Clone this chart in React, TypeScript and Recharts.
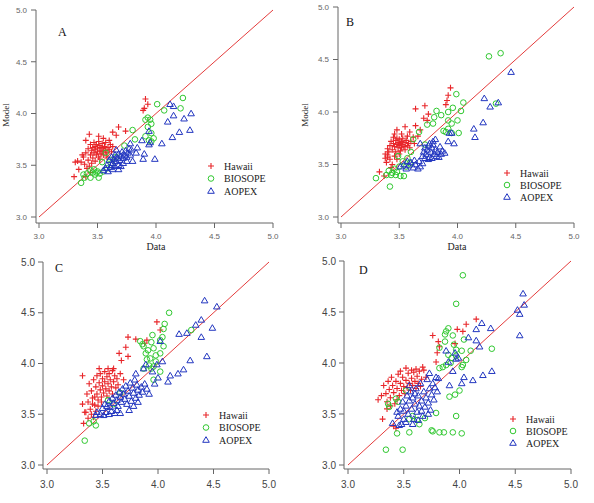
import React from 'react';
import { ScatterChart, Scatter, XAxis, YAxis, ReferenceLine } from 'recharts';

type Pt = [number, number];

// axis ticks shared by all panels
const ticks = [3.0, 3.5, 4.0, 4.5, 5.0];
const seriesNames = ['Hawaii', 'BIOSOPE', 'AOPEX'];
const panelLetters = ['A', 'B', 'C', 'D'];

// ---- panel A ----
const hawaiiA: Pt[] = [
  [3.91, 4.14], [3.93, 4.09], [3.90, 4.05], [3.89, 4.03], [3.43, 3.80], [3.51, 3.78], [3.68, 3.87],
  [3.63, 3.82], [3.66, 3.79], [3.74, 3.83], [3.31, 3.53], [3.33, 3.54], [3.30, 3.39], [3.34, 3.46],
  [3.40, 3.39], [3.38, 3.58], [3.40, 3.62], [3.42, 3.66], [3.42, 3.55], [3.44, 3.70], [3.44, 3.60],
  [3.45, 3.64], [3.46, 3.67], [3.46, 3.57], [3.47, 3.72], [3.47, 3.62], [3.48, 3.65], [3.48, 3.68],
  [3.49, 3.60], [3.49, 3.70], [3.50, 3.63], [3.50, 3.66], [3.51, 3.73], [3.51, 3.58], [3.52, 3.64],
  [3.52, 3.69], [3.53, 3.61], [3.53, 3.67], [3.54, 3.71], [3.54, 3.63], [3.55, 3.66], [3.55, 3.60],
  [3.56, 3.68], [3.57, 3.64], [3.57, 3.72], [3.58, 3.62], [3.59, 3.67], [3.60, 3.65], [3.61, 3.70],
  [3.62, 3.63], [3.63, 3.68], [3.45, 3.52], [3.43, 3.49], [3.41, 3.47], [3.36, 3.53], [3.37, 3.60],
  [3.39, 3.51], [3.48, 3.54], [3.52, 3.56], [3.58, 3.58], [3.40, 3.74], [3.55, 3.76], [3.60, 3.74],
  [3.44, 3.43],
];
const biosopeA: Pt[] = [
  [4.23, 4.15], [4.01, 4.09], [4.07, 4.03], [4.21, 4.05], [3.93, 3.96], [3.91, 3.94], [3.95, 3.94],
  [3.93, 3.87], [3.96, 3.90], [3.91, 3.78], [3.96, 3.81], [3.98, 3.76], [3.96, 3.73], [3.94, 3.74],
  [3.82, 3.75], [3.80, 3.84], [3.73, 3.69], [3.57, 3.62], [3.61, 3.55], [3.54, 3.53], [3.38, 3.41],
  [3.36, 3.33], [3.44, 3.38], [3.51, 3.38], [3.46, 3.43], [3.48, 3.41], [3.50, 3.44], [3.52, 3.42],
  [3.55, 3.44], [3.41, 3.42], [3.44, 3.45], [3.47, 3.46], [3.58, 3.47], [3.62, 3.52], [3.66, 3.58],
  [3.39, 3.38], [3.49, 3.43],
];
const aopexA: Pt[] = [
  [4.12, 4.09], [4.15, 4.07], [4.15, 3.98], [4.10, 3.92], [4.30, 4.00], [4.24, 3.95], [4.29, 3.84],
  [4.20, 3.82], [4.14, 3.77], [4.05, 3.71], [3.99, 3.56], [3.89, 3.56], [3.90, 3.61], [3.88, 3.74],
  [3.94, 3.70], [3.95, 3.72], [3.94, 3.83], [3.84, 3.67], [3.83, 3.62], [3.78, 3.71], [3.80, 3.54],
  [3.60, 3.55], [3.62, 3.58], [3.63, 3.52], [3.64, 3.56], [3.65, 3.60], [3.66, 3.54], [3.67, 3.57],
  [3.68, 3.61], [3.69, 3.55], [3.70, 3.59], [3.71, 3.63], [3.72, 3.57], [3.73, 3.60], [3.74, 3.64],
  [3.75, 3.58], [3.76, 3.62], [3.77, 3.66], [3.78, 3.60], [3.79, 3.65], [3.72, 3.52], [3.68, 3.50],
  [3.75, 3.54], [3.66, 3.65], [3.55, 3.45], [3.57, 3.47], [3.59, 3.44], [3.61, 3.48], [3.63, 3.46],
  [3.65, 3.49], [3.68, 3.46], [3.58, 3.50], [3.62, 3.50], [3.70, 3.49],
];

// ---- panel B ----
const hawaiiB: Pt[] = [
  [3.94, 4.23], [3.92, 4.16], [3.91, 4.11], [3.90, 4.07], [3.64, 4.03], [3.72, 4.06], [3.75, 3.98],
  [3.71, 3.94], [3.74, 3.92], [3.48, 3.83], [3.55, 3.86], [3.59, 3.81], [3.64, 3.87], [3.68, 3.83],
  [3.66, 3.77], [3.33, 3.43], [3.37, 3.39], [3.38, 3.56], [3.40, 3.59], [3.42, 3.68], [3.43, 3.72],
  [3.44, 3.64], [3.45, 3.70], [3.45, 3.76], [3.46, 3.67], [3.47, 3.73], [3.47, 3.62], [3.48, 3.69],
  [3.48, 3.75], [3.49, 3.66], [3.49, 3.71], [3.50, 3.68], [3.50, 3.74], [3.51, 3.63], [3.51, 3.70],
  [3.52, 3.72], [3.52, 3.66], [3.53, 3.69], [3.53, 3.75], [3.54, 3.67], [3.55, 3.71], [3.55, 3.64],
  [3.56, 3.73], [3.57, 3.68], [3.58, 3.70], [3.59, 3.66], [3.60, 3.72], [3.57, 3.77], [3.52, 3.79],
  [3.46, 3.79], [3.41, 3.62], [3.40, 3.57], [3.39, 3.52], [3.42, 3.55], [3.44, 3.50], [3.43, 3.47],
  [3.46, 3.58], [3.48, 3.55], [3.50, 3.60], [3.38, 3.60], [3.40, 3.65], [3.62, 3.76], [3.63, 3.70],
];
const biosopeB: Pt[] = [
  [4.27, 4.53], [4.37, 4.56], [4.33, 4.08], [3.99, 4.17], [4.05, 4.09], [4.03, 4.01], [3.96, 4.04],
  [3.82, 4.01], [3.86, 3.97], [3.80, 3.95], [3.79, 3.89], [3.74, 3.88], [3.92, 4.00], [4.00, 3.92],
  [3.92, 3.92], [3.95, 3.89], [3.88, 3.82], [3.92, 3.84], [4.01, 3.80], [3.95, 3.80], [3.90, 3.81],
  [3.62, 3.74], [3.67, 3.81], [3.72, 3.69], [3.49, 3.58], [3.30, 3.37], [3.42, 3.29], [3.51, 3.39],
  [3.54, 3.39], [3.41, 3.44], [3.44, 3.42], [3.46, 3.46], [3.48, 3.43], [3.50, 3.48], [3.43, 3.40],
  [3.56, 3.48], [3.59, 3.51], [3.53, 3.53], [3.60, 3.62], [3.57, 3.56], [3.39, 3.40], [3.47, 3.40],
];
const aopexB: Pt[] = [
  [4.46, 4.38], [4.23, 4.13], [4.28, 4.05], [4.35, 4.09], [4.14, 3.84], [4.15, 3.76], [4.22, 3.90],
  [3.97, 3.70], [3.92, 3.72], [3.95, 3.80], [3.93, 3.80], [3.81, 3.74], [3.85, 3.67], [3.89, 3.61],
  [3.68, 3.70], [3.70, 3.58], [3.71, 3.62], [3.72, 3.66], [3.73, 3.60], [3.74, 3.64], [3.75, 3.68],
  [3.76, 3.57], [3.77, 3.62], [3.78, 3.66], [3.79, 3.72], [3.80, 3.60], [3.81, 3.64], [3.82, 3.58],
  [3.83, 3.62], [3.84, 3.57], [3.86, 3.60], [3.87, 3.63], [3.78, 3.56], [3.75, 3.55], [3.72, 3.56],
  [3.79, 3.69], [3.76, 3.70], [3.51, 3.48], [3.54, 3.50], [3.56, 3.46], [3.58, 3.49], [3.60, 3.52],
  [3.62, 3.47], [3.64, 3.50], [3.66, 3.46], [3.68, 3.48], [3.70, 3.51], [3.57, 3.53], [3.63, 3.54],
  [3.67, 3.53],
];

// ---- panel C ----
const hawaiiC: Pt[] = [
  [3.99, 4.41], [4.02, 4.33], [3.90, 4.23], [3.80, 4.24], [3.73, 4.26], [3.71, 4.16], [3.65, 4.10],
  [3.67, 4.03], [3.73, 4.07], [3.60, 3.95], [3.32, 3.60], [3.34, 3.52], [3.33, 3.41], [3.32, 3.88],
  [3.69, 3.84], [3.88, 4.20], [3.36, 3.70], [3.37, 3.62], [3.38, 3.80], [3.39, 3.55], [3.40, 3.73],
  [3.41, 3.66], [3.42, 3.84], [3.43, 3.59], [3.44, 3.77], [3.45, 3.70], [3.45, 3.88], [3.46, 3.64],
  [3.47, 3.81], [3.48, 3.74], [3.48, 3.90], [3.49, 3.67], [3.50, 3.85], [3.50, 3.78], [3.51, 3.71],
  [3.52, 3.92], [3.52, 3.82], [3.53, 3.75], [3.54, 3.87], [3.54, 3.68], [3.55, 3.80], [3.56, 3.73],
  [3.56, 3.90], [3.57, 3.84], [3.58, 3.77], [3.59, 3.93], [3.59, 3.70], [3.60, 3.82], [3.61, 3.88],
  [3.62, 3.76], [3.63, 3.85], [3.64, 3.79], [3.66, 3.90], [3.40, 3.50], [3.42, 3.47], [3.37, 3.46],
  [3.44, 3.53], [3.46, 3.58], [3.35, 3.52], [3.41, 3.60], [3.47, 3.95], [3.55, 3.95], [3.43, 3.67],
  [3.49, 3.62],
];
const biosopeC: Pt[] = [
  [4.10, 4.50], [4.06, 4.39], [4.05, 4.34], [4.30, 4.33], [3.95, 4.28], [4.02, 4.23], [3.84, 4.22],
  [3.87, 4.17], [3.96, 4.15], [4.05, 4.17], [3.89, 4.10], [3.93, 4.05], [3.98, 4.08], [4.02, 4.10],
  [3.92, 3.98], [3.96, 3.97], [4.02, 3.92], [3.96, 3.84], [3.66, 3.71], [3.55, 3.64], [3.34, 3.24],
  [3.38, 3.41], [3.44, 3.39], [3.42, 3.43], [3.86, 4.19], [3.91, 4.13], [3.94, 4.21], [4.04, 4.26],
  [3.90, 4.04], [3.98, 4.02], [3.94, 3.95], [3.87, 3.95], [3.60, 3.60],
];
const aopexC: Pt[] = [
  [4.42, 4.62], [4.53, 4.56], [4.39, 4.43], [4.34, 4.38], [4.26, 4.30], [4.19, 4.29], [4.49, 4.35],
  [4.39, 4.26], [4.44, 4.07], [4.29, 4.03], [4.23, 3.94], [4.18, 3.90], [4.11, 3.88], [4.09, 3.82],
  [4.02, 4.22], [4.04, 4.02], [3.89, 3.99], [3.99, 3.99], [3.95, 3.92], [3.80, 3.90], [3.87, 3.95],
  [4.00, 3.86], [3.97, 3.80], [3.50, 3.56], [3.52, 3.60], [3.54, 3.58], [3.56, 3.63], [3.57, 3.57],
  [3.59, 3.66], [3.60, 3.61], [3.62, 3.69], [3.63, 3.64], [3.64, 3.58], [3.65, 3.72], [3.66, 3.67],
  [3.67, 3.62], [3.68, 3.75], [3.69, 3.70], [3.70, 3.65], [3.71, 3.78], [3.72, 3.60], [3.73, 3.73],
  [3.74, 3.68], [3.75, 3.81], [3.76, 3.63], [3.77, 3.76], [3.78, 3.71], [3.79, 3.84], [3.80, 3.66],
  [3.81, 3.79], [3.82, 3.74], [3.83, 3.69], [3.85, 3.77], [3.86, 3.72], [3.88, 3.80], [3.90, 3.75],
  [3.92, 3.70], [3.45, 3.52], [3.48, 3.50], [3.51, 3.49], [3.53, 3.52], [3.56, 3.50], [3.58, 3.53],
  [3.61, 3.51], [3.63, 3.54], [3.66, 3.51], [3.74, 3.54], [3.78, 3.58], [3.82, 3.62], [3.44, 3.49],
];

// ---- panel D ----
const hawaiiD: Pt[] = [
  [4.15, 4.43], [4.06, 4.38], [4.03, 4.31], [3.98, 4.33], [3.76, 4.27], [3.81, 4.21], [3.82, 4.16],
  [3.80, 4.10], [3.79, 4.01], [3.96, 4.19], [3.67, 3.96], [3.61, 3.94], [3.52, 3.95], [3.27, 3.64],
  [3.30, 3.68], [3.31, 3.45], [3.43, 3.36], [3.41, 3.38], [3.32, 3.78], [3.34, 3.70], [3.35, 3.62],
  [3.36, 3.82], [3.37, 3.74], [3.38, 3.66], [3.39, 3.86], [3.40, 3.78], [3.41, 3.71], [3.42, 3.60],
  [3.43, 3.82], [3.44, 3.75], [3.45, 3.89], [3.46, 3.68], [3.47, 3.80], [3.48, 3.73], [3.49, 3.86],
  [3.50, 3.77], [3.51, 3.70], [3.52, 3.83], [3.53, 3.76], [3.54, 3.90], [3.55, 3.80], [3.56, 3.73],
  [3.57, 3.85], [3.58, 3.78], [3.59, 3.91], [3.60, 3.82], [3.61, 3.75], [3.62, 3.87], [3.63, 3.80],
  [3.64, 3.92], [3.66, 3.84], [3.68, 3.93], [3.70, 3.86], [3.44, 3.64], [3.38, 3.58], [3.35, 3.55],
  [3.47, 3.92], [3.57, 3.93], [3.65, 3.77],
];
const biosopeD: Pt[] = [
  [4.03, 4.86], [3.97, 4.58], [3.90, 4.34], [3.88, 4.31], [3.94, 4.27], [3.87, 4.28], [4.04, 4.23],
  [3.82, 4.15], [3.87, 4.21], [3.95, 4.18], [3.97, 4.13], [4.02, 4.12], [4.10, 4.12], [4.29, 4.14],
  [3.90, 4.08], [3.93, 4.05], [3.88, 3.98], [3.82, 3.95], [3.85, 3.96], [4.03, 3.98], [4.02, 3.96],
  [4.00, 3.73], [3.96, 3.69], [3.91, 3.67], [3.97, 3.48], [3.79, 3.51], [3.76, 3.33], [3.82, 3.32],
  [3.86, 3.32], [3.94, 3.32], [4.02, 3.31], [3.75, 3.34], [3.55, 3.32], [3.44, 3.31], [3.34, 3.15],
  [3.49, 3.15], [3.69, 3.46], [3.62, 3.44], [3.36, 3.60], [3.37, 3.57], [3.43, 3.65], [3.52, 3.73],
  [3.58, 3.48], [3.64, 3.40], [3.55, 3.45], [3.92, 4.00], [3.97, 4.07], [4.06, 4.03], [3.45, 3.62],
];
const aopexD: Pt[] = [
  [4.57, 4.68], [4.58, 4.57], [4.52, 4.52], [4.54, 4.48], [4.54, 4.27], [4.20, 4.39], [4.15, 4.33],
  [4.28, 4.34], [4.15, 4.22], [4.08, 4.25], [4.18, 4.16], [4.29, 3.92], [4.21, 3.88], [4.12, 3.83],
  [4.04, 3.86], [4.02, 3.80], [3.91, 3.78], [3.94, 3.92], [3.90, 4.01], [3.97, 4.04], [3.99, 4.05],
  [3.96, 4.10], [3.88, 4.12], [3.73, 3.90], [3.40, 3.41], [3.46, 3.39], [3.45, 3.48], [3.47, 3.55],
  [3.49, 3.62], [3.50, 3.45], [3.52, 3.58], [3.53, 3.68], [3.54, 3.50], [3.55, 3.63], [3.56, 3.72],
  [3.57, 3.55], [3.58, 3.66], [3.59, 3.45], [3.60, 3.60], [3.61, 3.75], [3.62, 3.52], [3.63, 3.68],
  [3.64, 3.58], [3.65, 3.80], [3.66, 3.63], [3.67, 3.48], [3.68, 3.72], [3.69, 3.57], [3.70, 3.66],
  [3.71, 3.84], [3.72, 3.61], [3.73, 3.75], [3.74, 3.54], [3.75, 3.69], [3.76, 3.80], [3.77, 3.64],
  [3.78, 3.76], [3.79, 3.86], [3.80, 3.72], [3.81, 3.85], [3.52, 3.42], [3.48, 3.40], [3.58, 3.40],
  [3.63, 3.44], [3.44, 3.52], [3.55, 3.78], [3.60, 3.70], [3.50, 3.53], [3.66, 3.53], [3.72, 3.50],
];

const RED = '#e8262a';
const GREEN = '#30c830';
const BLUE = '#2236c0';
const ONE_TO_ONE = '#e43c3c';

const toXY = (pts: Pt[]) => pts.map(([x, y]) => ({ x, y }));
const fmt = (v: number) => v.toFixed(1);

const Plus = (props: any) => {
  const { cx, cy } = props;
  return (
    <path d={`M${cx - 3},${cy}H${cx + 3}M${cx},${cy - 3}V${cy + 3}`} stroke={RED} strokeWidth={1.1} fill="none" />
  );
};
const Ring = (props: any) => {
  const { cx, cy } = props;
  return <circle cx={cx} cy={cy} r={2.8} stroke={GREEN} strokeWidth={1} fill="none" />;
};
const Tri = (props: any) => {
  const { cx, cy } = props;
  return (
    <path
      d={`M${cx},${cy - 3.3}L${cx + 3.3},${cy + 2.3}L${cx - 3.3},${cy + 2.3}Z`}
      stroke={BLUE}
      strokeWidth={1}
      fill="none"
    />
  );
};

// layout for each panel (pixel placement only)
const panels = [
  {
    data: [hawaiiA, biosopeA, aopexA],
    left: 0, top: 0, width: 300, height: 250,
    mTop: 10, mRight: 27, yW: 36, xH: 27, padX: 3, padY: 6,
    font: 8, tickFill: '#666', xMargin: 5, yMargin: 4,
  },
  {
    data: [hawaiiB, biosopeB, aopexB],
    left: 300, top: 0, width: 294, height: 250,
    mTop: 7, mRight: 20, yW: 38, xH: 27, padX: 3, padY: 6,
    font: 8, tickFill: '#666', xMargin: 5, yMargin: 4,
  },
  {
    data: [hawaiiC, biosopeC, aopexC],
    left: 0, top: 250, width: 300, height: 253,
    mTop: 12, mRight: 31, yW: 43, xH: 34, padX: 4, padY: 4,
    font: 10, tickFill: '#444', xMargin: 7, yMargin: 3,
  },
  {
    data: [hawaiiD, biosopeD, aopexD],
    left: 300, top: 250, width: 294, height: 253,
    mTop: 11, mRight: 23, yW: 44, xH: 34, padX: 4, padY: 4,
    font: 10, tickFill: '#444', xMargin: 7, yMargin: 3,
  },
];

// annotation positions: letter, legend origin, axis titles
const letterPos = [[58, 36], [346, 26], [55, 272], [359, 274]];
const legendPos = [[211, 166], [507, 173], [206, 415], [513, 419]];
const legendGap = [12.5, 12, 12.5, 12];

function Panel({ p }: { p: (typeof panels)[number] }) {
  const tickStyle = { fill: p.tickFill, fontSize: p.font, fontFamily: "'Liberation Sans', Arial, sans-serif" };
  const shapes = [Plus, Ring, Tri];
  return (
    <div style={{ position: 'absolute', left: p.left, top: p.top }}>
      <ScatterChart
        width={p.width}
        height={p.height}
        margin={{ top: p.mTop, right: p.mRight, bottom: 0, left: 0 }}
      >
        <XAxis
          type="number"
          dataKey="x"
          domain={[3, 5]}
          ticks={ticks}
          tickFormatter={fmt}
          padding={{ left: p.padX, right: 0 }}
          height={p.xH}
          tickSize={5}
          tickMargin={p.xMargin}
          stroke="#666"
          tick={tickStyle}
          allowDataOverflow
        />
        <YAxis
          type="number"
          dataKey="y"
          domain={[3, 5]}
          ticks={ticks}
          tickFormatter={fmt}
          padding={{ top: 0, bottom: p.padY }}
          width={p.yW}
          tickSize={5}
          tickMargin={p.yMargin}
          stroke="#666"
          tick={tickStyle}
          allowDataOverflow
        />
        <ReferenceLine
          segment={[{ x: 3, y: 3 }, { x: 5, y: 5 }]}
          stroke={ONE_TO_ONE}
          strokeWidth={1}
          ifOverflow="visible"
        />
        {p.data.map((pts, i) => (
          <Scatter
            key={seriesNames[i]}
            name={seriesNames[i]}
            data={toXY(pts)}
            shape={shapes[i]}
            isAnimationActive={false}
          />
        ))}
      </ScatterChart>
    </div>
  );
}

export default function App() {
  const serif = "'Liberation Serif', 'Times New Roman', serif";
  return (
    <div style={{ position: 'absolute', left: 0, top: 0, width: 594, height: 503, background: '#fff' }}>
      {panels.map((p, i) => (
        <Panel key={panelLetters[i]} p={p} />
      ))}
      <svg
        width={594}
        height={503}
        style={{ position: 'absolute', left: 0, top: 0, pointerEvents: 'none', fontFamily: serif }}
      >
        {panelLetters.map((l, i) => (
          <text key={l} x={letterPos[i][0]} y={letterPos[i][1]} fontSize={12} fill="#111">
            {l}
          </text>
        ))}
        <text x={156} y={250} fontSize={10} textAnchor="middle" fill="#222">Data</text>
        <text x={457} y={250} fontSize={10} textAnchor="middle" fill="#222">Data</text>
        <text x={9} y={115} fontSize={9} textAnchor="middle" fill="#222" transform="rotate(-90 9 115)">Model</text>
        <text x={308} y={115} fontSize={9} textAnchor="middle" fill="#222" transform="rotate(-90 308 115)">Model</text>
        {legendPos.map(([lx, ly], i) => (
          <g key={`leg${i}`}>
            {seriesNames.map((n, j) => {
              const cy = ly + j * legendGap[i];
              const Shape = [Plus, Ring, Tri][j];
              return (
                <g key={n}>
                  <Shape cx={lx} cy={cy} />
                  <text x={lx + 13} y={cy + 3.5} fontSize={10} fill="#222">{n}</text>
                </g>
              );
            })}
          </g>
        ))}
      </svg>
    </div>
  );
}
